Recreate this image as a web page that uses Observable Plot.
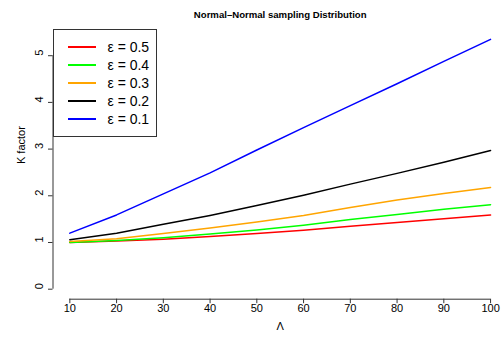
<!DOCTYPE html>
<html>
<head>
<meta charset="utf-8">
<script src="https://cdn.jsdelivr.net/npm/d3@7"></script>
<script src="https://cdn.jsdelivr.net/npm/@observablehq/plot@0.6"></script>
<style>
  html, body { margin: 0; padding: 0; background: #fff; }
  #wrap { position: relative; width: 503px; height: 337px; font-family: "Liberation Sans", Arial, Helvetica, sans-serif; }
  #legend { position: absolute; left: 52.5px; top: 28.5px; width: 104px; height: 108px; border: 1px solid #333; box-sizing: border-box; background: transparent; }
  .row { position: absolute; left: 0; height: 18px; width: 100%; }
  .sw { position: absolute; left: 14px; width: 28px; top: 8px; height: 2px; }
  .lb { position: absolute; left: 54px; top: 0; line-height: 18px; font-size: 14px; color: #000; white-space: nowrap; }
</style>
</head>
<body>
<div id="wrap"></div>
<script>
// ---- data ----
const lambda = [10, 20, 30, 40, 50, 60, 70, 80, 90, 100];
const eps05 = [1.00, 1.03, 1.07, 1.13, 1.19, 1.26, 1.35, 1.43, 1.51, 1.59];
const eps04 = [1.00, 1.04, 1.10, 1.18, 1.27, 1.37, 1.49, 1.60, 1.71, 1.81];
const eps03 = [1.02, 1.08, 1.19, 1.31, 1.44, 1.58, 1.75, 1.91, 2.05, 2.18];
const eps02 = [1.06, 1.20, 1.39, 1.58, 1.79, 2.01, 2.25, 2.48, 2.72, 2.97];
const eps01 = [1.20, 1.59, 2.04, 2.49, 2.98, 3.46, 3.93, 4.40, 4.88, 5.35];
const seriesLabels = ["ε = 0.5", "ε = 0.4", "ε = 0.3", "ε = 0.2", "ε = 0.1"];
const seriesColors = ["#FF0000", "#00FF00", "#FFA500", "#000000", "#0000FF"];
const xTicks = [10, 20, 30, 40, 50, 60, 70, 80, 90, 100];
const yTicks = [0, 1, 2, 3, 4, 5];
const title = "Normal\u2013Normal sampling Distribution";
const xLabel = "Λ";
const yLabel = "K factor";

const seriesValues = [eps05, eps04, eps03, eps02, eps01];
const rows = [];
seriesValues.forEach((vals, s) => {
  vals.forEach((v, i) => rows.push({L: lambda[i], K: v, series: seriesLabels[s]}));
});

const W = 503, H = 337;
const mL = 52.5, mR = -3.9, mT = 28.4, mB = 38.3;
const xDom = [6.4, 103.6];
const yDom = [-0.2144, 5.574];
const axisColor = "#333";

const chart = Plot.plot({
  width: W,
  height: H,
  marginLeft: mL,
  marginRight: mR,
  marginTop: mT,
  marginBottom: mB,
  style: {fontFamily: '"Liberation Sans", Arial, Helvetica, sans-serif', background: "#fff", overflow: "visible"},
  x: {domain: xDom, range: [mL, W - mR], axis: null},
  y: {domain: yDom, range: [H - mB, mT], axis: null},
  color: {domain: seriesLabels, range: seriesColors},
  marks: [
    Plot.ruleY([yDom[0]], {x1: xTicks[0], x2: xTicks[xTicks.length - 1], stroke: axisColor, strokeWidth: 1}),
    Plot.ruleX([xDom[0]], {y1: yTicks[0], y2: yTicks[yTicks.length - 1], stroke: axisColor, strokeWidth: 1}),
    Plot.axisX({ticks: xTicks, tickSize: 4.5, tickFormat: () => "", label: null, color: axisColor}),
    Plot.axisY({ticks: yTicks, tickSize: 4.5, tickFormat: () => "", label: null, color: axisColor}),
    Plot.text(xTicks, {x: d => d, frameAnchor: "bottom", dy: 12.6, text: d => String(d), fontSize: 11, fill: "#000"}),
    Plot.text(yTicks, {y: d => d, frameAnchor: "left", dx: -13.8, rotate: -90, text: d => String(d), fontSize: 11, fill: "#000"}),
    Plot.text([xLabel], {frameAnchor: "bottom", dy: 31, text: d => d, fontSize: 11, fill: "#000"}),
    Plot.text([yLabel], {frameAnchor: "left", dx: -32, rotate: -90, text: d => d, fontSize: 11, fill: "#000"}),
    Plot.text([title], {frameAnchor: "top", dy: -18.2, text: d => d, fontSize: 9.6, fontWeight: "bold", fill: "#000"}),
    Plot.line(rows, {x: "L", y: "K", z: "series", stroke: "series", strokeWidth: 1.5})
  ]
});

const wrap = document.getElementById("wrap");
wrap.appendChild(chart);

const lg = document.createElement("div");
lg.id = "legend";
seriesLabels.forEach((lab, i) => {
  const r = document.createElement("div");
  r.className = "row";
  r.style.top = (9 + 18 * i - 0.5) + "px";
  const sw = document.createElement("div");
  sw.className = "sw";
  sw.style.backgroundColor = seriesColors[i];
  const t = document.createElement("div");
  t.className = "lb";
  t.textContent = lab;
  r.appendChild(sw);
  r.appendChild(t);
  lg.appendChild(r);
});
wrap.appendChild(lg);
</script>
</body>
</html>
